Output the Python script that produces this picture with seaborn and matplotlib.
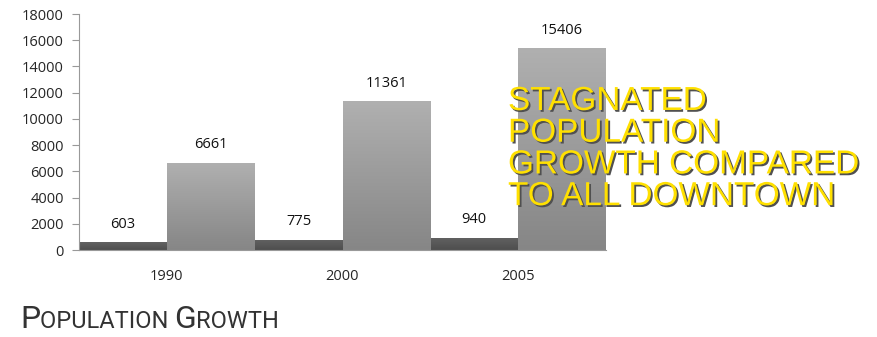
import matplotlib
matplotlib.use('Agg')
import matplotlib.pyplot as plt
import matplotlib.patheffects as pe
from matplotlib.colors import LinearSegmentedColormap
import seaborn as sns
import pandas as pd
import numpy as np

years = ['1990', '2000', '2005']
study_area = [603, 775, 940]
all_downtown = [6661, 11361, 15406]
y_ticks = [0, 2000, 4000, 6000, 8000, 10000, 12000, 14000, 16000, 18000]
series_names = ['Study Area', 'All Downtown']
callout = "STAGNATED\nPOPULATION\nGROWTH COMPARED\nTO ALL DOWNTOWN"
title_parts = [('P', 23), ('OPULATION ', 17), ('G', 23), ('ROWTH', 17)]

sns.set_style('white')
plt.rcParams['font.family'] = ['Open Sans', 'DejaVu Sans']

fig = plt.figure(figsize=(8.77, 3.37), dpi=100)
ax = fig.add_axes([79/877, 1-250/337, (606-79)/877, 236/337])

df = pd.DataFrame({
    'year': years * 2,
    'series': [series_names[0]] * 3 + [series_names[1]] * 3,
    'value': study_area + all_downtown,
})
sns.barplot(data=df, x='year', y='value', hue='series', hue_order=series_names,
            palette=['#5a5a5a', '#9c9c9c'], width=1.0, saturation=1,
            legend=False, errorbar=None, ax=ax)

cmaps = {
    '#5a5a5a': LinearSegmentedColormap.from_list('d', ['#4e4e4e', '#626262']),
    '#9c9c9c': LinearSegmentedColormap.from_list('l', ['#868686', '#b0b0b0']),
}
grad = np.linspace(0, 1, 256).reshape(-1, 1)
for p in list(ax.patches):
    x, w, h = p.get_x(), p.get_width(), p.get_height()
    fc = matplotlib.colors.to_hex(p.get_facecolor())
    cm = cmaps.get(fc, cmaps['#9c9c9c'])
    im = ax.imshow(grad, cmap=cm, origin='lower', aspect='auto',
                   extent=[x, x + w, 0, h], zorder=p.get_zorder() + 0.1)
    im.set_clip_path(p)
    ax.annotate(f'{int(round(h))}', (x + w / 2, h), xytext=(0, 18),
                textcoords='offset pixels', ha='center', va='center',
                fontsize=10.5, color='#111111')

ax.set_xlim(-0.5, 2.5)
ax.set_ylim(0, 18000)
ax.set_yticks(y_ticks)
ax.set_xlabel('')
ax.set_ylabel('')
for s in ['top', 'right']:
    ax.spines[s].set_visible(False)
ax.spines['left'].set_color('#999999')
ax.spines['bottom'].set_color('#999999')
ax.tick_params(axis='y', length=5, color='#999999', labelsize=10.5, pad=6, left=True)
ax.tick_params(axis='x', length=0, labelsize=10.5, pad=14)

# callout text
fig.text(508/877, 1-86/337, callout, ha='left', va='top', fontsize=24,
         family=['Liberation Sans', 'DejaVu Sans'], color='#FFE000', linespacing=1.03,
         path_effects=[pe.withSimplePatchShadow(offset=(1.3, -1.3), shadow_rgbFace='#505050', alpha=1.0)])

# small-caps title
fig.canvas.draw()
r = fig.canvas.get_renderer()
xpix = 20
for txt, fs in title_parts:
    t = fig.text(xpix/877, 1-328/337, txt, ha='left', va='baseline', fontsize=fs,
                 family=['Roboto', 'DejaVu Sans'], color='#333333')
    bb = t.get_window_extent(renderer=r)
    xpix += bb.width

fig.savefig('out.png', dpi=100)
